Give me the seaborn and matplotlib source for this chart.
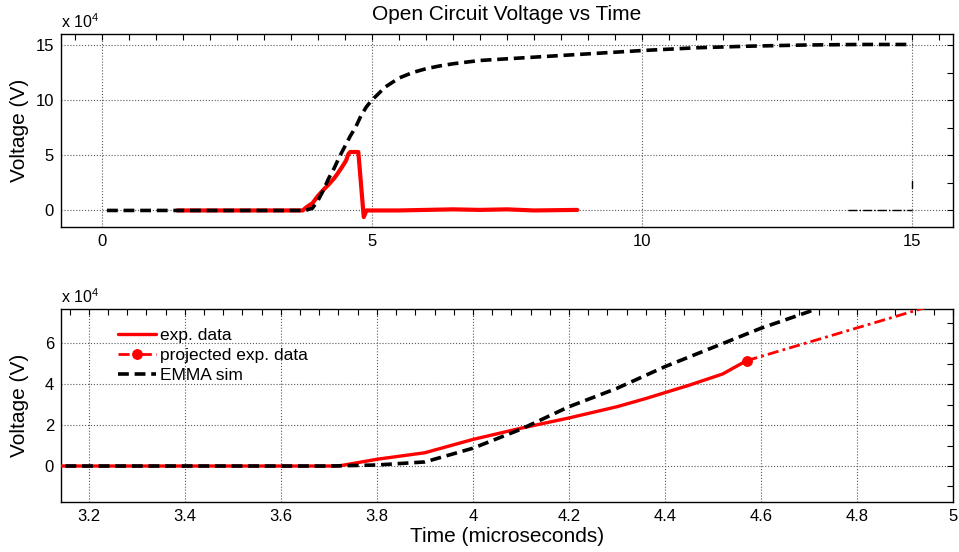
import numpy as np
import pandas as pd
import matplotlib
matplotlib.use("Agg")
import matplotlib.pyplot as plt
import seaborn as sns
from matplotlib.ticker import MultipleLocator, FuncFormatter

# ---------------- data (voltage in units of 1e4 V) ----------------
exp_time = [1.4, 3.0, 3.72, 3.8, 3.9, 4.0, 4.1, 4.2, 4.3, 4.36, 4.45, 4.52, 4.57,
            4.6, 4.75, 4.85, 4.9, 5.5, 6.0, 6.5, 7.0, 7.5, 8.0, 8.8]
exp_volt = [0.0, 0.0, 0.0, 0.33, 0.65, 1.3, 1.85, 2.35, 2.9, 3.3, 3.95, 4.5, 5.15,
            5.3, 5.3, -0.6, 0.0, 0.0, 0.05, 0.1, 0.05, 0.1, 0.0, 0.05]

sim_time = [0.1, 3.7, 3.8, 3.9, 4.0, 4.1, 4.2, 4.3, 4.4, 4.5, 4.6, 4.7, 4.8, 4.9,
            5.0, 5.25, 5.5, 5.75, 6.0, 6.25, 6.5, 7.0, 8.0, 9.0, 10.0, 11.0, 12.0,
            13.0, 14.0, 15.0]
sim_volt = [0.0, 0.0, 0.05, 0.2, 0.87, 1.8, 2.9, 3.8, 4.86, 5.8, 6.74, 7.55, 8.6, 9.4,
            10.0, 11.2, 12.0, 12.5, 12.85, 13.1, 13.3, 13.6, 13.9, 14.2, 14.5, 14.75,
            14.9, 15.0, 15.05, 15.05]

proj_time = [4.57, 5.0]
proj_volt = [5.15, 8.15]

stray_time = [13.8, 15.0]
stray_volt = [0.0, 0.0]
tick_time = [15.0, 15.0]
tick_volt = [2.0, 2.7]

exp_cut = 4.57  # end of measured data shown in the zoomed panel

# ---------------- style ----------------
sns.set_style("white")
plt.rcParams['font.family'] = ['Liberation Sans', 'DejaVu Sans']
plt.rcParams['mathtext.fontset'] = 'custom'
plt.rcParams['mathtext.rm'] = 'Liberation Sans'
for k in ('text.color', 'axes.labelcolor', 'xtick.color', 'ytick.color'):
    plt.rcParams[k] = 'black'

fig = plt.figure(figsize=(9.59, 5.52), dpi=100)
W, H = 959, 552
ax1 = fig.add_axes([61 / W, 1 - 227 / H, 892 / W, 193 / H])
ax2 = fig.add_axes([61 / W, 1 - 502 / H, 892 / W, 193 / H])

RED = '#ff0000'
dash = (3.0, 1.6)

df_exp = pd.DataFrame({'t': exp_time, 'v': exp_volt})
df_sim = pd.DataFrame({'t': sim_time, 'v': sim_volt})
df_proj = pd.DataFrame({'t': proj_time, 'v': proj_volt})

# ---- top panel ----
sns.lineplot(data=df_exp, x='t', y='v', ax=ax1, color=RED, lw=3.0, sort=False,
             estimator=None, zorder=3)
sns.lineplot(data=df_sim, x='t', y='v', ax=ax1, color='black', lw=2.6, sort=False,
             estimator=None, zorder=4)
ax1.lines[-1].set_dashes(dash)
sns.lineplot(x=stray_time, y=stray_volt, ax=ax1, color='black', lw=1.0,
             estimator=None, sort=False)
ax1.lines[-1].set_linestyle('-.')
sns.lineplot(x=tick_time, y=tick_volt, ax=ax1, color='black', lw=1.0,
             estimator=None, sort=False)

ax1.set_xlim(-0.75, 15.75)
ax1.set_ylim(-1.5, 16.0)
ax1.xaxis.set_major_locator(MultipleLocator(5))
ax1.xaxis.set_minor_locator(MultipleLocator(0.5))
ax1.yaxis.set_major_locator(MultipleLocator(5))
ax1.yaxis.set_minor_locator(MultipleLocator(2.5))
ax1.set_xlabel('')
ax1.set_ylabel('Voltage (V)', fontsize=15)
ax1.set_title('Open Circuit Voltage vs Time', fontsize=15, pad=10)

# ---- bottom panel ----
df_exp_b = df_exp[df_exp['t'] <= exp_cut]
sns.lineplot(data=df_exp_b, x='t', y='v', ax=ax2, color=RED, lw=2.4, sort=False,
             estimator=None, label='exp. data', zorder=3)
sns.lineplot(data=df_proj, x='t', y='v', ax=ax2, color=RED, lw=2.0, sort=False,
             estimator=None, label='projected exp. data', marker='o',
             markersize=7, markeredgecolor=RED, zorder=3)
ax2.lines[-1].set_dashes((4, 1.5, 1, 1.5))
sns.lineplot(data=df_sim, x='t', y='v', ax=ax2, color='black', lw=2.6, sort=False,
             estimator=None, label='EMMA sim', zorder=4)
ax2.lines[-1].set_dashes(dash)

ax2.set_xlim(3.142, 5.0)
ax2.set_ylim(-1.76, 7.68)
ax2.xaxis.set_major_locator(MultipleLocator(0.2))
ax2.xaxis.set_minor_locator(MultipleLocator(0.04))
ax2.yaxis.set_major_locator(MultipleLocator(2))
ax2.yaxis.set_minor_locator(MultipleLocator(1))
ax2.xaxis.set_major_formatter(FuncFormatter(lambda v, p: f'{v:g}'))
ax2.set_xlabel('Time (microseconds)', fontsize=15, labelpad=2)
ax2.set_ylabel('Voltage (V)', fontsize=15)

leg = ax2.legend(loc='upper left', bbox_to_anchor=(57 / 892, 1 - 19 / 193),
                 frameon=False, fontsize=12.5, borderpad=0, borderaxespad=0,
                 handlelength=2.2, handletextpad=0.2, labelspacing=0.28)
for t in leg.get_texts():
    t.set_color('black')

for ax in (ax1, ax2):
    ax.grid(True, which='major', color='0.35', linestyle=':', linewidth=0.8)
    ax.tick_params(which='both', direction='in', top=True, right=True,
                   length=4, width=0.8, color='black', labelsize=12, pad=5)
    for s in ax.spines.values():
        s.set_visible(True)
        s.set_color('black')
        s.set_linewidth(1.0)
    ax.set_axisbelow(True)
    ax.text(0.0, 1.015, r'x 10$^{4}$', transform=ax.transAxes, fontsize=11.5,
            ha='left', va='bottom')
    ax.yaxis.set_label_coords(-0.036, 0.5)

fig.savefig('out.png', dpi=100)
